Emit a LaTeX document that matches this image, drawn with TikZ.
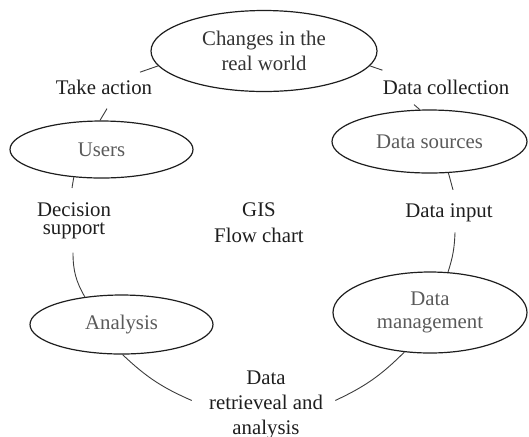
\documentclass[tikz,border=0pt]{standalone}
\usepackage{fontspec}
\setmainfont{Liberation Serif}
\usetikzlibrary{shapes.geometric,calc}
\definecolor{ink}{HTML}{1E1E1E}
\definecolor{dim}{HTML}{333333}
\definecolor{soft}{HTML}{5A5A5A}
\definecolor{wire}{HTML}{3C3C3C}

\begin{document}
\begin{tikzpicture}[x=0.5pt, y=-0.5pt, font=\fontsize{10.4}{12.5}\selectfont,
  main/.style = {draw=ink, ellipse, line width=0.6pt, inner sep=0pt, text=soft, align=center},
  tag/.style = {inner sep=0pt, text=ink, align=center},
  link/.style = {draw=wire, line width=0.45pt}]
\useasboundingbox (0,0) rectangle (529,436);
\node[main, minimum width=113pt, minimum height=40.5pt, text=dim] (1) at (264,51) {Changes in the\\real world};
\node[main, minimum width=91.5pt, minimum height=28.5pt] (2) at (101.5,149.5) {Users};
\node[main, minimum width=97.5pt, minimum height=31.5pt] (3) at (429.5,141.5) {Data sources};
\node[main, minimum width=91.5pt, minimum height=29.5pt] (4) at (121.5,324.5) {Analysis};
\node[main, minimum width=97pt, minimum height=40.5pt, font=\fontsize{10.4}{11.5}\selectfont] (5) at (430,312.5) {Data\\management};
\node[tag, anchor=base] (6) at (104,94) {Take action};
\node[tag, anchor=base] (7) at (446,94) {Data collection};
\node[tag, anchor=north, font=\fontsize{10.4}{9}\selectfont] (8) at (74,202) {Decision\\support};
\node[tag, anchor=north, font=\fontsize{10.4}{13}\selectfont] (9) at (259,202) {GIS\\Flow chart};
\node[tag, anchor=base] (10) at (449,217) {Data input};
\node[tag, anchor=north] (11) at (266,370) {Data\\retrieveal and\\analysis};
\draw[link] (1.188) -- ($(6.north)+(36,-7)$);
\draw[link] (1.352) -- ($(7.north west)+(0,-9)$);
\draw[link] ($(6.south)+(3,14)$) -- (2.93);
\draw[link] ($(7.south)+(-32,10)$) -- (3.107);
\draw[link] (2.225) -- ($(8.north)+(-2,-14)$);
\draw[link] ($(8.south)+(-1,13.5)$) to[bend right=15] (4.143);
\draw[link] (4.272) to[bend right=10] ($(11.west)+(-17,-4)$);
\draw[link] (5.237) to[bend left=10] ($(11.east)+(12,-4)$);
\draw[link] (3.301) -- ($(10.north)+(4,-13)$);
\draw[link] ($(10.south)+(6,10.5)$) to[bend left=8] (5.66);
\end{tikzpicture}
\end{document}
